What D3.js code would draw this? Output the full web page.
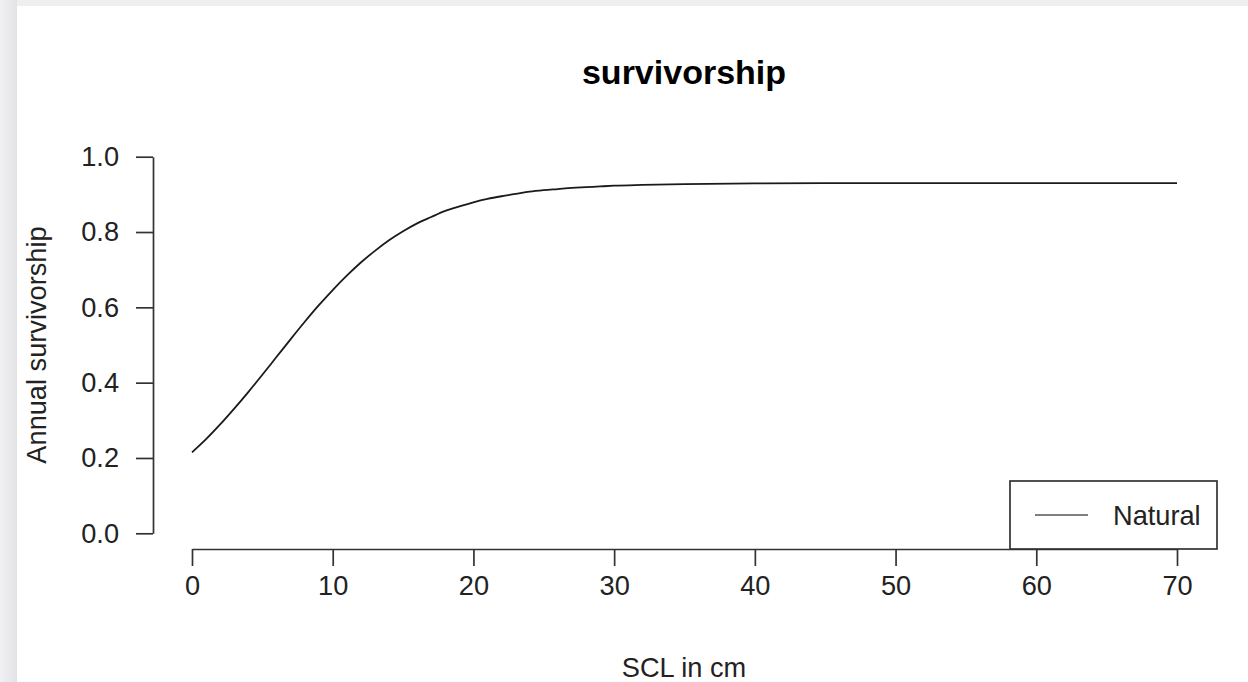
<!DOCTYPE html>
<html>
<head>
<meta charset="utf-8">
<script src="https://cdn.jsdelivr.net/npm/d3@7"></script>
<style>
  html, body { margin: 0; padding: 0; background: #efeff1; }
  svg { display: block; font-family: "Liberation Sans", Arial, Helvetica, sans-serif; }
</style>
</head>
<body>
<svg id="chart" width="1248" height="682"></svg>
<script>
// Annual survivorship by straight carapace length (SCL, cm)
const sclCm = [0, 1, 2, 3, 4, 5, 6, 7, 8, 9, 10, 11, 12, 13, 14, 15, 16, 17, 18, 19, 20,
               21, 22, 23, 24, 25, 26, 27, 28, 29, 30, 32, 35, 40, 45, 50, 55, 60, 65, 70];
const survivalNatural = [0.215, 0.250, 0.289, 0.331, 0.375, 0.421, 0.468, 0.515, 0.561, 0.605,
                         0.646, 0.684, 0.719, 0.750, 0.778, 0.802, 0.823, 0.840, 0.856, 0.868,
                         0.879, 0.888, 0.895, 0.901, 0.907, 0.911, 0.914, 0.917, 0.919, 0.921,
                         0.923, 0.925, 0.927, 0.929, 0.930, 0.930, 0.930, 0.930, 0.930, 0.930];
const xTicks = [0, 10, 20, 30, 40, 50, 60, 70];
const yTicks = [0, 0.2, 0.4, 0.6, 0.8, 1.0];
const seriesNames = ["Natural"];

const svg = d3.select("#chart");

// window frame: grey surround with a soft left edge, white page
const defs = svg.append("defs");
const grad = defs.append("linearGradient").attr("id", "edge").attr("x1", 0).attr("x2", 1);
grad.append("stop").attr("offset", 0).attr("stop-color", "#f0f0f2");
grad.append("stop").attr("offset", 1).attr("stop-color", "#e3e3e6");
svg.append("rect").attr("width", 1248).attr("height", 682).attr("fill", "#efeff1");
svg.append("rect").attr("x", 0).attr("y", 0).attr("width", 17).attr("height", 682).attr("fill", "url(#edge)");
svg.append("rect").attr("x", 17).attr("y", 6).attr("width", 1231).attr("height", 676).attr("fill", "#ffffff");

const x = d3.scaleLinear().domain([0, 70]).range([192, 1177]);
const y = d3.scaleLinear().domain([0, 1]).range([533.3, 156.7]);

const axisColor = "#333";
const fontSize = 27.2;

// x axis
const gx = svg.append("g")
  .attr("transform", "translate(0,549)")
  .call(d3.axisBottom(x).tickValues(xTicks).tickFormat(d3.format("d")).tickSize(17).tickSizeOuter(0).tickPadding(10));
gx.select(".domain").attr("stroke", axisColor).attr("stroke-width", 1.7);
gx.selectAll(".tick line").attr("stroke", axisColor).attr("stroke-width", 1.7);
gx.selectAll(".tick text").attr("font-size", fontSize).attr("fill", "#222").attr("font-family", null);

// y axis
const gy = svg.append("g")
  .attr("transform", "translate(153,0)")
  .call(d3.axisLeft(y).tickValues(yTicks).tickFormat(d3.format(".1f")).tickSize(17).tickSizeOuter(0).tickPadding(17));
gy.select(".domain").attr("stroke", axisColor).attr("stroke-width", 1.7);
gy.selectAll(".tick line").attr("stroke", axisColor).attr("stroke-width", 1.7);
gy.selectAll(".tick text").attr("font-size", fontSize).attr("fill", "#222").attr("font-family", null);

// survivorship curve
const line = d3.line()
  .x((d, i) => x(sclCm[i]))
  .y(d => y(d))
  .curve(d3.curveMonotoneX);
svg.append("path")
  .datum(survivalNatural)
  .attr("d", line)
  .attr("fill", "none")
  .attr("stroke", "#1a1a1a")
  .attr("stroke-width", 1.8);

// title and axis labels
svg.append("text")
  .attr("x", 684).attr("y", 84)
  .attr("text-anchor", "middle")
  .attr("font-size", 34).attr("font-weight", "bold").attr("fill", "#000")
  .text("survivorship");
svg.append("text")
  .attr("x", 684).attr("y", 677)
  .attr("text-anchor", "middle")
  .attr("font-size", fontSize).attr("fill", "#222")
  .text("SCL in cm");
svg.append("text")
  .attr("transform", "translate(46,345) rotate(-90)")
  .attr("text-anchor", "middle")
  .attr("font-size", fontSize).attr("fill", "#222")
  .text("Annual survivorship");

// legend, bottom-right of the plot region
const legend = svg.append("g");
legend.append("rect")
  .attr("x", 1010).attr("y", 481).attr("width", 207).attr("height", 68)
  .attr("fill", "#fff").attr("stroke", axisColor).attr("stroke-width", 1.7);
seriesNames.forEach((name, i) => {
  const cy = 515 + i * 30;
  legend.append("line")
    .attr("x1", 1035).attr("x2", 1088).attr("y1", cy).attr("y2", cy)
    .attr("stroke", "#555").attr("stroke-width", 1.7);
  legend.append("text")
    .attr("x", 1113).attr("y", cy).attr("dy", "0.35em")
    .attr("font-size", fontSize).attr("fill", "#222")
    .text(name);
});
</script>
</body>
</html>
